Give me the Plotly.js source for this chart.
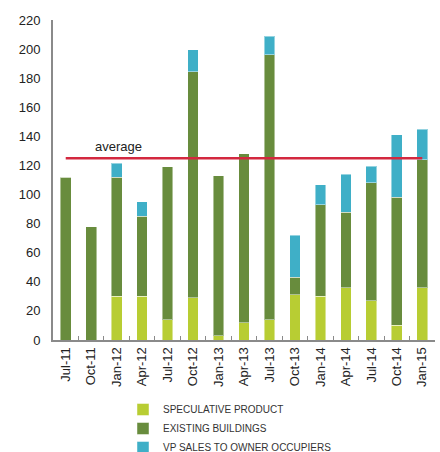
<!DOCTYPE html>
<html>
<head>
<meta charset="utf-8">
<script src="https://cdn.plot.ly/plotly-3.0.1.min.js"></script>
<style>html,body{margin:0;padding:0;background:#fff;}#chart{width:440px;height:452px;}</style>
</head>
<body>
<div id="chart"></div>
<script>
const categories = ['Jul-11','Oct-11','Jan-12','Apr-12','Jul-12','Oct-12','Jan-13','Apr-13','Jul-13','Oct-13','Jan-14','Apr-14','Jul-14','Oct-14','Jan-15'];
const speculative = [0, 0, 30, 30, 14, 29, 3, 12, 14, 31, 30, 36, 27, 10, 36];
const existing = [112, 78, 82, 55, 105, 155.5, 110, 116, 182, 12, 63, 52, 81, 88, 88];
const vpSales = [0, 0, 9.5, 10, 0, 15, 0, 0, 13, 29, 13.6, 26, 11.4, 43, 21];
const averageValue = 125;
const averageLabel = 'average';
const seriesNames = ['SPECULATIVE PRODUCT', 'EXISTING BUILDINGS', 'VP SALES TO OWNER OCCUPIERS'];
const yTicks = [0,20,40,60,80,100,120,140,160,180,200,220];

const colors = ['#b8cd33', '#688c3d', '#3fafc7'];
const edge = {color: 'rgba(255,255,255,0.45)', width: 1};
const font = 'Liberation Sans, Arial, Helvetica, sans-serif';

const traces = [speculative, existing, vpSales].map((vals, i) => ({
  type: 'bar', x: categories, y: vals, name: seriesNames[i],
  marker: {color: colors[i], line: edge}, legendgroup: 'g' + i,
  hoverinfo: 'x+y+name'
}));
traces.push({
  type: 'scatter', mode: 'lines',
  x: [categories[0], categories[categories.length - 1]],
  y: [averageValue, averageValue],
  line: {color: '#d3283f', width: 2.5}, showlegend: false, hoverinfo: 'skip'
});

const layout = {
  width: 440, height: 452,
  margin: {l: 53, r: 5, t: 20, b: 112, autoexpand: false},
  barmode: 'stack', bargap: 0.58,
  paper_bgcolor: '#fff', plot_bgcolor: '#fff',
  font: {family: font, size: 13, color: '#222'},
  showlegend: true,
  legend: {
    orientation: 'v', traceorder: 'normal',
    xref: 'container', yref: 'container',
    x: 123 / 440, xanchor: 'left', y: 1 - 395 / 452, yanchor: 'top',
    font: {family: font, size: 10, color: '#333'}, tracegroupgap: 0, itemwidth: 30,
    bgcolor: 'rgba(0,0,0,0)'
  },
  xaxis: {
    type: 'category', tickangle: -90, showgrid: false, zeroline: false,
    showline: true, linecolor: '#8a8a8a', linewidth: 2,
    ticks: 'inside', tickson: 'boundaries', ticklen: 4, tickcolor: '#8a8a8a', tickwidth: 1,
    tickfont: {family: font, size: 13, color: '#222'}
  },
  yaxis: {
    range: [0, 220], tickvals: yTicks, showgrid: false, zeroline: false,
    showline: true, linecolor: '#8a8a8a', linewidth: 2, ticks: '',
    ticklabelstandoff: 8,
    tickfont: {family: font, size: 13, color: '#222'}
  },
  annotations: [{
    x: categories[2], y: averageValue, xref: 'x', yref: 'y', text: averageLabel,
    showarrow: false, yanchor: 'bottom', yshift: 2, xshift: 2,
    font: {family: font, size: 13, color: '#222'}
  }]
};

Plotly.newPlot('chart', traces, layout, {displayModeBar: false, staticPlot: true});
</script>
</body>
</html>
